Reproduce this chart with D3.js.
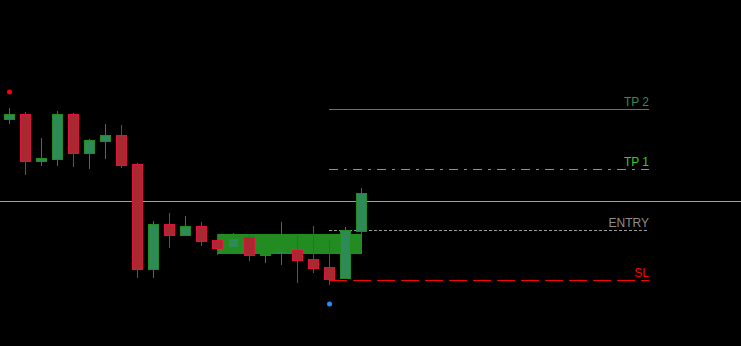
<!DOCTYPE html>
<html>
<head>
<meta charset="utf-8">
<script src="https://cdn.jsdelivr.net/npm/d3@7"></script>
<style>
  html, body { margin: 0; padding: 0; background: #000; }
  svg { display: block; }
</style>
</head>
<body>
<div id="chart"></div>
<script>
// ---- Data (price units) ----
const bars   = [0,1,2,3,4,5,6,7,8,9,10,11,12,13,14,15,16,17,18,19,20,21,22];
const opens  = [227.3,232,185.3,187.3,232,193.3,205.3,211,182,76.7,122,111.3,120,106,99,108.7,91,93.3,96,87,79,67.7,115.3];
const highs  = [238,234,208,235,233,207,222,221,183,125,133,130,124,112,113,112,108,124,110,120,106,119,158];
const lows   = [222.3,171,180.3,180.3,179,177.3,187.3,178.3,68.3,68.3,98.3,111.3,100.3,91.3,98,85.3,83.3,81.3,63.3,73.3,61.3,67.7,105.3];
const closes = [232,185.3,188,232,193.3,206,211,181.3,76.7,122,111.3,120,105.3,98.3,108.3,91.3,92.3,95,86.3,78.3,67.3,116,153];

const currentPrice = 145;
const levelNames  = ["TP 2", "TP 1", "ENTRY", "SL"];
const levelPrices = [236.7, 176.7, 115.7, 65.7];
const levelStart  = 20;   // bar index where level lines start
const levelEnd    = 40;   // bar index where level lines end

const zoneStart = 13, zoneEnd = 22, zoneTop = 112, zoneBottom = 92;

const markerBars   = [0, 20];
const markerPrices = [254, 42];

// ---- Styles ----
const W = 741, H = 346;
const levelColors = ["#2e8b57", "#32cd32", "#8c8c8c", "#ff0000"];
const levelLineColors = ["#3c8a64", "#32cd32", "#9a9a9a", "#ff0000"];
const levelDash = ["", "9,6,3,6", "3,2", "18,6"];
const markerColors = ["#ff0000", "#1e90ff"];

const svg = d3.select("#chart").append("svg").attr("width", W).attr("height", H)
  .style("background", "#000");

const x = d3.scaleLinear().domain([0, 22]).range([9.5, 361.5]);
const y = d3.scaleLinear().domain([0, 346]).range([346, 0]);
const snap = v => Math.round(v) + 0.5;
const col = b => Math.floor(x(b));   // pixel column of a bar's centre

// current price line
svg.append("line")
  .attr("x1", 0).attr("x2", W)
  .attr("y1", snap(y(currentPrice))).attr("y2", snap(y(currentPrice)))
  .attr("stroke", "#9aa0a8").attr("stroke-width", 1);

// zone rectangle
svg.append("rect")
  .attr("x", col(zoneStart))
  .attr("y", Math.round(y(zoneTop)))
  .attr("width", col(zoneEnd) - col(zoneStart) + 1)
  .attr("height", Math.round(y(zoneBottom)) - Math.round(y(zoneTop)))
  .attr("fill", "#228b22");

// level lines + labels
levelNames.forEach((name, i) => {
  const yy = snap(y(levelPrices[i]));
  svg.append("line")
    .attr("x1", col(levelStart)).attr("x2", col(levelEnd))
    .attr("y1", yy).attr("y2", yy)
    .attr("stroke", levelLineColors[i]).attr("stroke-width", 1)
    .attr("stroke-dasharray", levelDash[i] || null);
  svg.append("text")
    .attr("x", col(levelEnd)).attr("y", yy - 3.5)
    .attr("text-anchor", "end")
    .attr("font-family", "'Liberation Sans', Arial, sans-serif")
    .attr("font-size", 12)
    .attr("fill", levelColors[i])
    .text(name);
});

// candles
const candles = bars.map((b, i) => ({ b, o: opens[i], h: highs[i], l: lows[i], c: closes[i] }));
const g = svg.append("g");
candles.forEach(d => {
  const up = d.c >= d.o;
  const cx = col(d.b);
  g.append("line")
    .attr("x1", cx + 0.5).attr("x2", cx + 0.5)
    .attr("y1", Math.round(y(d.h))).attr("y2", Math.round(y(d.l)))
    .attr("stroke", up ? "#228b22" : "#dc143c").attr("stroke-width", 1);
  const top = Math.round(y(Math.max(d.o, d.c)));
  const bot = Math.round(y(Math.min(d.o, d.c)));
  const bh = Math.max(1, bot - top);
  g.append("rect")
    .attr("x", cx - 4.5)
    .attr("y", top + 0.5)
    .attr("width", 10)
    .attr("height", bh)
    .attr("fill", up ? "#2e8b57" : "#a82a30")
    .attr("stroke", up ? "#228b22" : "#dc143c")
    .attr("stroke-width", 1);
});

// markers
markerBars.forEach((b, i) => {
  svg.append("circle")
    .attr("cx", col(b) + 0.5).attr("cy", y(markerPrices[i]))
    .attr("r", 2.5)
    .attr("fill", markerColors[i]);
});
</script>
</body>
</html>
